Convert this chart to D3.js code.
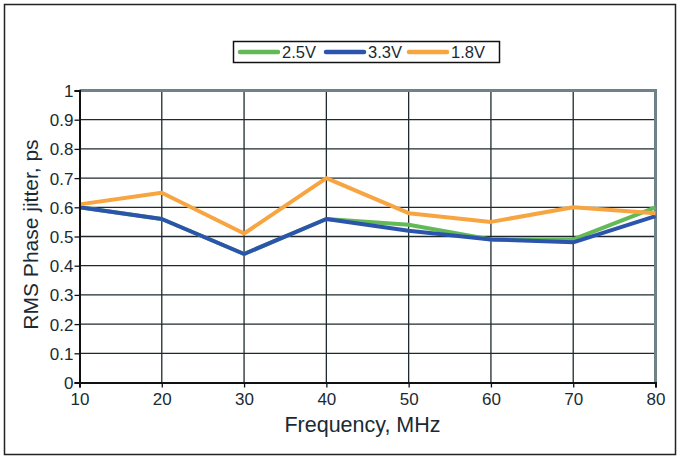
<!DOCTYPE html>
<html><head><meta charset="utf-8">
<script src="https://cdn.jsdelivr.net/npm/d3@7"></script>
<style>body{margin:0;background:#fff}svg{display:block}text{font-family:"Liberation Sans",Arial,sans-serif}</style>
</head><body><svg id="c" width="681" height="458"></svg>
<script>
const freqs = [10,20,30,40,50,60,70,80];
const v25 = [0.60,0.56,0.44,0.56,0.54,0.49,0.49,0.60];
const v33 = [0.60,0.56,0.44,0.56,0.52,0.49,0.48,0.57];
const v18 = [0.61,0.65,0.51,0.70,0.58,0.55,0.60,0.58];
const yTicks = [0,0.1,0.2,0.3,0.4,0.5,0.6,0.7,0.8,0.9,1];
const seriesNames = ["2.5V","3.3V","1.8V"];
const colors = ["#62b956","#2b55ad","#f7a540"];

const svg = d3.select("#c");
svg.append("rect").attr("x",4.5).attr("y",4.5).attr("width",671).attr("height",450)
  .attr("fill","#fff").attr("stroke","#222").attr("stroke-width",1.5);

const L=79.5,R=655.5,T=90.5,B=382.5;
const x = d3.scaleLinear().domain([10,80]).range([L,R]);
const y = d3.scaleLinear().domain([0,1]).range([B,T]);
const g = svg.append("g");

// grid
g.selectAll(".hg").data(yTicks.filter(d=>d>0&&d<1)).join("line")
  .attr("x1",L).attr("x2",R).attr("y1",d=>y(d)).attr("y2",d=>y(d))
  .attr("stroke","#1e2a2e").attr("stroke-width",1.3);
g.selectAll(".vg").data(freqs.filter(d=>d>10&&d<80)).join("line")
  .attr("y1",T).attr("y2",B).attr("x1",d=>x(d)).attr("x2",d=>x(d))
  .attr("stroke","#1e2a2e").attr("stroke-width",1.3);
// top/right border
g.append("path").attr("d",`M${L},${T}H${R}V${B}`).attr("fill","none")
  .attr("stroke","#6f8288").attr("stroke-width",3);

// lines
const line = d3.line().x((d,i)=>x(freqs[i])).y(d=>y(d));
[v25,v33,v18].forEach((s,k)=>{
  g.append("path").datum(s).attr("d",line).attr("fill","none")
   .attr("stroke",colors[k]).attr("stroke-width",4).attr("stroke-linejoin","round");
});

// axes
const ya = d3.axisLeft(y).tickValues(yTicks).tickSize(5).tickFormat(d3.format("~g"));
const xa = d3.axisBottom(x).tickValues(freqs).tickSize(5);
const yg = svg.append("g").attr("transform",`translate(${L},0)`).call(ya);
const xg = svg.append("g").attr("transform",`translate(0,${B})`).call(xa);
[yg,xg].forEach(a=>{
  a.select(".domain").attr("stroke","#111").attr("stroke-width",2);
  a.selectAll(".tick line").attr("stroke","#111").attr("stroke-width",1.3);
  a.selectAll("text").attr("font-size",17).attr("fill","#1a2a33")
   .attr("font-family","Liberation Sans, Arial, sans-serif");
});
yg.selectAll("text").attr("x",-6).attr("dy","0.35em");
xg.selectAll("text").attr("y",10);

svg.append("text").attr("x",(L+R)/2 - 5).attr("y",432).attr("text-anchor","middle")
  .attr("font-size",21.5).attr("fill","#1a2a33").text("Frequency, MHz");
svg.append("text").attr("transform",`translate(38,${(T+B)/2 - 2}) rotate(-90)`)
  .attr("text-anchor","middle").attr("font-size",21).attr("fill","#1a2a33").text("RMS Phase jitter, ps");

// legend
const lg = svg.append("g");
lg.append("rect").attr("x",233.5).attr("y",41.5).attr("width",266).attr("height",21)
  .attr("fill","#fff").attr("stroke","#111").attr("stroke-width",1.5);
const lx=[240,326,409];
seriesNames.forEach((n,k)=>{
  lg.append("line").attr("x1",lx[k]).attr("x2",lx[k]+38).attr("y1",52).attr("y2",52)
    .attr("stroke",colors[k]).attr("stroke-width",4.5).attr("stroke-linecap","round");
  lg.append("text").attr("x",lx[k]+42).attr("y",58).attr("font-size",16.5)
    .attr("fill","#1a2a33").text(n);
});
</script></body></html>
